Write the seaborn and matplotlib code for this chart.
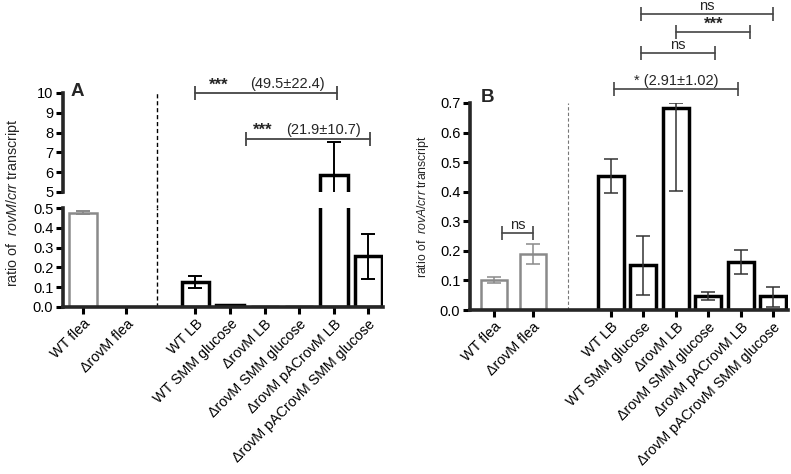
import numpy as np
import pandas as pd
import matplotlib
matplotlib.use("Agg")
import matplotlib.pyplot as plt
import seaborn as sns

# ---------------- data ----------------
labels = ["WT flea", "\u0394rovM flea", "WT LB", "WT SMM glucose", "\u0394rovM LB",
          "\u0394rovM SMM glucose", "\u0394rovM pACrovM LB", "\u0394rovM pACrovM SMM glucose"]
groups = ["flea", "flea", "culture", "culture", "culture", "culture", "culture", "culture"]

pos_a = [0, 1.25, 3.25, 4.25, 5.25, 6.25, 7.25, 8.25]
val_a = [0.475, 0.0, 0.126, 0.008, 0.0, 0.0, 5.86, 0.258]
lo_a = [0.468, 0.0, 0.096, 0.008, 0.0, 0.0, 4.3, 0.141]
hi_a = [0.483, 0.0, 0.157, 0.008, 0.0, 0.0, 7.52, 0.369]

pos_b = [0, 1.2, 3.6, 4.6, 5.6, 6.6, 7.6, 8.6]
val_b = [0.101, 0.189, 0.453, 0.152, 0.682, 0.046, 0.163, 0.046]
lo_b = [0.090, 0.155, 0.395, 0.051, 0.402, 0.034, 0.122, 0.011]
hi_b = [0.112, 0.223, 0.510, 0.250, 0.700, 0.061, 0.203, 0.078]

# brackets: (x1, x2, y, stars, stars_x, note, note_x)
brackets_a = [(3.24, 7.35, 10.0, "***", 3.93, "(49.5\u00b122.4)", 5.9),
              (4.71, 8.29, 7.68, "***", 5.2, "(21.9\u00b110.7)", 6.94)]
# (x1, x2, y, text)
brackets_b = [(0.25, 1.2, 0.26, "ns"),
              (3.7, 7.52, 0.747, "* (2.91\u00b11.02)"),
              (4.53, 6.81, 0.868, "ns"),
              (5.61, 7.89, 0.94, "***"),
              (4.53, 8.6, 1.0, "ns")]

# ---------------- style ----------------
sns.set_style("ticks")
plt.rcParams["font.family"] = ["Liberation Sans", "DejaVu Sans"]
plt.rcParams["mathtext.fontset"] = "custom"
plt.rcParams["mathtext.rm"] = "Liberation Sans"
plt.rcParams["mathtext.it"] = "Liberation Sans:italic"

GRAY = "#8a8a8a"
palette = {"flea": GRAY, "culture": "black"}

fig = plt.figure(figsize=(7.91, 4.74), dpi=100)
W, H = 791, 474


def add_ax(x0, x1, ytop, ybot):
    return fig.add_axes([x0 / W, 1 - ybot / H, (x1 - x0) / W, (ybot - ytop) / H])


axA_up = add_ax(63, 383, 93, 192)
axA_lo = add_ax(63, 383, 208, 307)
axB = add_ax(470, 788, 103, 310)

df_a = pd.DataFrame({"pos": pos_a, "val": val_a, "grp": groups})
df_b = pd.DataFrame({"pos": pos_b, "val": val_b, "grp": groups})


def draw_bars(ax, df, lo, hi, ecol_culture, elw):
    sns.barplot(data=df, x="pos", y="val", hue="grp", palette=palette, native_scale=True,
                dodge=False, fill=False, errorbar=None, legend=False, linewidth=2.2, ax=ax)
    for p in ax.patches:
        ec = matplotlib.colors.to_hex(p.get_edgecolor())
        p.set_linewidth(1.8 if ec != "#000000" else 2.5)
    for g, col in [("flea", GRAY), ("culture", ecol_culture)]:
        idx = [i for i, gg in enumerate(df["grp"]) if gg == g]
        x = np.array(df["pos"])[idx]
        v = np.array(df["val"])[idx]
        l = np.array(lo)[idx]
        h = np.array(hi)[idx]
        ax.errorbar(x, v, yerr=[v - l, h - v], fmt="none", ecolor=col, elinewidth=elw,
                    capsize=5, capthick=elw)


draw_bars(axA_up, df_a, lo_a, hi_a, "black", 1.4)
draw_bars(axA_lo, df_a, lo_a, hi_a, "black", 1.4)
draw_bars(axB, df_b, lo_b, hi_b, "#333333", 1.1)

for ax in (axA_up, axA_lo, axB):
    sns.despine(ax=ax)
    for s in ("left", "bottom"):
        ax.spines[s].set_linewidth(2.6)
    ax.tick_params(axis="both", width=2.2, length=5, labelsize=10.5, colors="black", pad=2)
    ax.set_xlabel("")
    ax.set_ylabel("")

# Panel A broken axis
axA_up.set_xlim(-0.58, 8.67)
axA_lo.set_xlim(-0.58, 8.67)
axA_up.set_ylim(5, 10)
axA_up.set_yticks(np.arange(5, 11, 1))
axA_up.set_yticklabels([str(int(t)) for t in np.arange(5, 11, 1)])
axA_up.spines["bottom"].set_visible(False)
axA_up.tick_params(axis="x", bottom=False, labelbottom=False)
axA_lo.set_ylim(0, 0.5)
axA_lo.set_yticks(np.arange(0, 0.51, 0.1))
axA_lo.set_yticklabels([f"{t:.1f}" for t in np.arange(0, 0.51, 0.1)])
axA_lo.set_xticks(pos_a)
axA_lo.set_xticklabels(labels, rotation=45, ha="right", rotation_mode="anchor", fontsize=10.3)

axA_up.axvline(2.14, ymin=-0.17, ymax=1.0, color="black", lw=1, ls=(0, (3, 2)), clip_on=False)
axA_lo.axvline(2.14, ymin=0, ymax=1.0, color="black", lw=1, ls=(0, (3, 2)))

fig.text(13 / W, 1 - 203 / H, "ratio of  $\\mathit{rovM/crr}$ transcript", rotation=90,
         ha="center", va="center", fontsize=10.3)
fig.text(77 / W, 1 - 91 / H, "A", fontsize=13.5, fontweight="bold", ha="center", va="center")

BR = "#444444"
for x1, x2, y, st, sx, note, nx in brackets_a:
    axA_up.plot([x1, x2], [y, y], color=BR, lw=1.3, marker="|", ms=10, mew=1.3, clip_on=False)
    axA_up.annotate(st, xy=(sx, y), xytext=(0, 0.5), textcoords="offset points",
                    ha="center", va="bottom", fontsize=12, fontweight="bold", annotation_clip=False)
    axA_up.annotate(note, xy=(nx, y), xytext=(0, 3.5), textcoords="offset points",
                    ha="center", va="baseline", fontsize=10.5, annotation_clip=False)

# Panel B
axB.set_xlim(-0.74, 9.05)
axB.set_ylim(0, 0.7)
axB.set_yticks(np.arange(0, 0.71, 0.1))
axB.set_yticklabels([f"{t:.1f}" for t in np.arange(0, 0.71, 0.1)])
axB.set_xticks(pos_b)
axB.set_xticklabels(labels, rotation=45, ha="right", rotation_mode="anchor", fontsize=10.3)
axB.axvline(2.28, color="#777777", lw=0.8, ls=(0, (3, 2)))
axB.set_ylabel("ratio of  $\\mathit{rovA/crr}$ transcript", fontsize=8.8, labelpad=6)
fig.text(488 / W, 1 - 97 / H, "B", fontsize=13.5, fontweight="bold", ha="center", va="center")

for x1, x2, y, t in brackets_b:
    axB.plot([x1, x2], [y, y], color=BR, lw=1.2, marker="|", ms=10, mew=1.2, clip_on=False)
    if t == "***":
        axB.annotate(t, xy=((x1 + x2) / 2, y), xytext=(0, 0.5), textcoords="offset points",
                     ha="center", va="bottom", fontsize=12, fontweight="bold", annotation_clip=False)
    else:
        axB.annotate(t, xy=((x1 + x2) / 2, y), xytext=(0, 3), textcoords="offset points",
                     ha="center", va="baseline", fontsize=10.5, annotation_clip=False)

fig.savefig("out.png", dpi=100)
